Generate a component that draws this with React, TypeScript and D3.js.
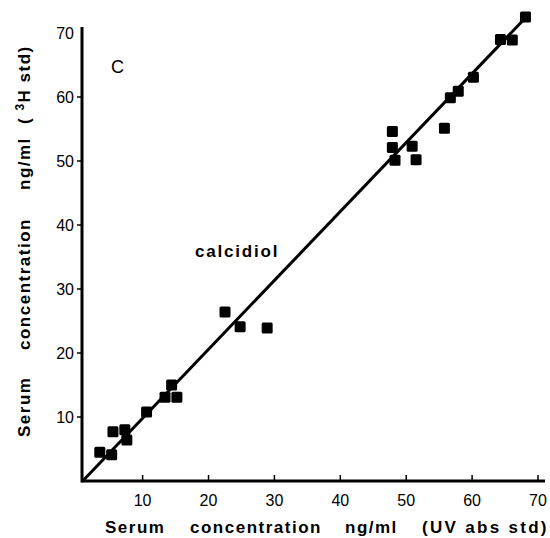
import * as d3 from "d3";
import { useEffect, useRef } from "react";

// readings (UV abs std vs 3H std, ng/ml)
const uvValues = [3.5, 5.3, 5.5, 7.3, 7.6, 10.6, 13.4, 14.4, 15.2, 22.5, 24.8, 28.9, 47.9, 47.9, 48.3, 50.9, 51.5, 55.8, 56.7, 57.9, 60.2, 64.3, 66.1, 68.1];
const h3Values = [4.5, 4.1, 7.7, 8.0, 6.4, 10.8, 13.1, 15.0, 13.1, 26.4, 24.1, 23.9, 54.6, 52.1, 50.1, 52.3, 50.2, 55.1, 59.9, 60.9, 63.1, 69.0, 68.9, 72.5];
const fitLine = [[0.9, 0], [68.4, 72.7]];
const ticks = [10, 20, 30, 40, 50, 60, 70];
const xLabelWords = ["Serum", "concentration", "ng/ml", "(UV abs std)"];
const yLabelWords = ["Serum", "concentration", "ng/ml"];

const font = "'Liberation Sans', Arial, sans-serif";

const App = () => {
  const refChart = useRef(null);

  useEffect(() => {
    const width = 550;
    const height = 538;

    d3.select(refChart.current).select("svg").remove();

    const svg = d3
      .select(refChart.current)
      .append("svg")
      .attr("width", width)
      .attr("height", height)
      .style("display", "block")
      .style("background", "#fff");

    const xScale = d3.scaleLinear().domain([0.8, 70]).range([82, 538]);
    const yScale = d3.scaleLinear().domain([0, 70]).range([481, 33]);

    // axes
    svg.append("line")
      .attr("x1", 82).attr("x2", 545)
      .attr("y1", yScale(0)).attr("y2", yScale(0))
      .attr("stroke", "#000").attr("stroke-width", 3);
    svg.append("line")
      .attr("x1", 82).attr("x2", 82)
      .attr("y1", yScale(0) + 1.5).attr("y2", 27)
      .attr("stroke", "#000").attr("stroke-width", 3);

    const xt = svg.append("g");
    xt.selectAll("line")
      .data(ticks)
      .enter()
      .append("line")
      .attr("x1", d => xScale(d)).attr("x2", d => xScale(d))
      .attr("y1", yScale(0)).attr("y2", yScale(0) - 6)
      .attr("stroke", "#000").attr("stroke-width", 1.5);
    xt.selectAll("text")
      .data(ticks)
      .enter()
      .append("text")
      .attr("x", d => xScale(d))
      .attr("y", 506)
      .attr("text-anchor", "middle")
      .attr("font-family", font)
      .attr("font-size", "16px")
      .text(d => d);

    const yt = svg.append("g");
    yt.selectAll("line")
      .data(ticks.slice(0, 6))
      .enter()
      .append("line")
      .attr("x1", 82).attr("x2", 77)
      .attr("y1", d => yScale(d)).attr("y2", d => yScale(d))
      .attr("stroke", "#000").attr("stroke-width", 1.5);
    yt.selectAll("text")
      .data(ticks)
      .enter()
      .append("text")
      .attr("x", 74)
      .attr("y", d => yScale(d) + 6)
      .attr("text-anchor", "end")
      .attr("font-family", font)
      .attr("font-size", "16px")
      .text(d => d);

    // regression line
    svg.append("line")
      .attr("x1", xScale(fitLine[0][0])).attr("y1", yScale(fitLine[0][1]))
      .attr("x2", xScale(fitLine[1][0])).attr("y2", yScale(fitLine[1][1]))
      .attr("stroke", "#000").attr("stroke-width", 3);

    // points
    const pts = uvValues.map((u, i) => ({ x: u, y: h3Values[i] }));
    svg.append("g")
      .selectAll("rect")
      .data(pts)
      .enter()
      .append("rect")
      .attr("x", d => xScale(d.x) - 5.5)
      .attr("y", d => yScale(d.y) - 5.5)
      .attr("width", 11)
      .attr("height", 11)
      .attr("rx", 1.5)
      .attr("fill", "#000");

    // annotations
    svg.append("text")
      .attr("x", 117.5).attr("y", 73)
      .attr("text-anchor", "middle")
      .attr("font-family", font)
      .attr("font-size", "18px")
      .text("C");

    svg.append("text")
      .attr("x", 195).attr("y", 257)
      .attr("font-family", font)
      .attr("font-weight", "bold")
      .attr("font-size", "17px")
      .attr("letter-spacing", "1.8px")
      .text("calcidiol");

    // x axis title, word by word as in the original typesetting
    const xStarts = [105, 190, 345, 422];
    svg.append("g")
      .selectAll("text")
      .data(xLabelWords)
      .enter()
      .append("text")
      .attr("x", (d, i) => xStarts[i])
      .attr("y", 533)
      .attr("font-family", font)
      .attr("font-weight", "bold")
      .attr("font-size", "17px")
      .attr("letter-spacing", (d, i) => (i === 3 ? "2.3px" : "1.5px"))
      .text(d => d);

    // y axis title (rotated)
    const yStarts = [437, 350, 190];
    const yg = svg.append("g");
    yg.selectAll("text")
      .data(yLabelWords)
      .enter()
      .append("text")
      .attr("transform", (d, i) => `translate(30,${yStarts[i]}) rotate(-90)`)
      .attr("font-family", font)
      .attr("font-weight", "bold")
      .attr("font-size", "17px")
      .attr("letter-spacing", "1.5px")
      .text(d => d);
    const yl = yg.append("text")
      .attr("transform", "translate(30,124) rotate(-90)")
      .attr("font-family", font)
      .attr("font-weight", "bold")
      .attr("font-size", "17px")
      .attr("letter-spacing", "1.5px")
      .style("white-space", "pre");
    yl.append("tspan").text("( ");
    yl.append("tspan").attr("dy", -6).attr("font-size", "12px").text("3");
    yl.append("tspan").attr("dy", 6).text("H std)");
  }, [refChart]);

  return <div className="chart" ref={refChart} style={{ position: "fixed", left: 0, top: 0 }} />;
};

export default App;
